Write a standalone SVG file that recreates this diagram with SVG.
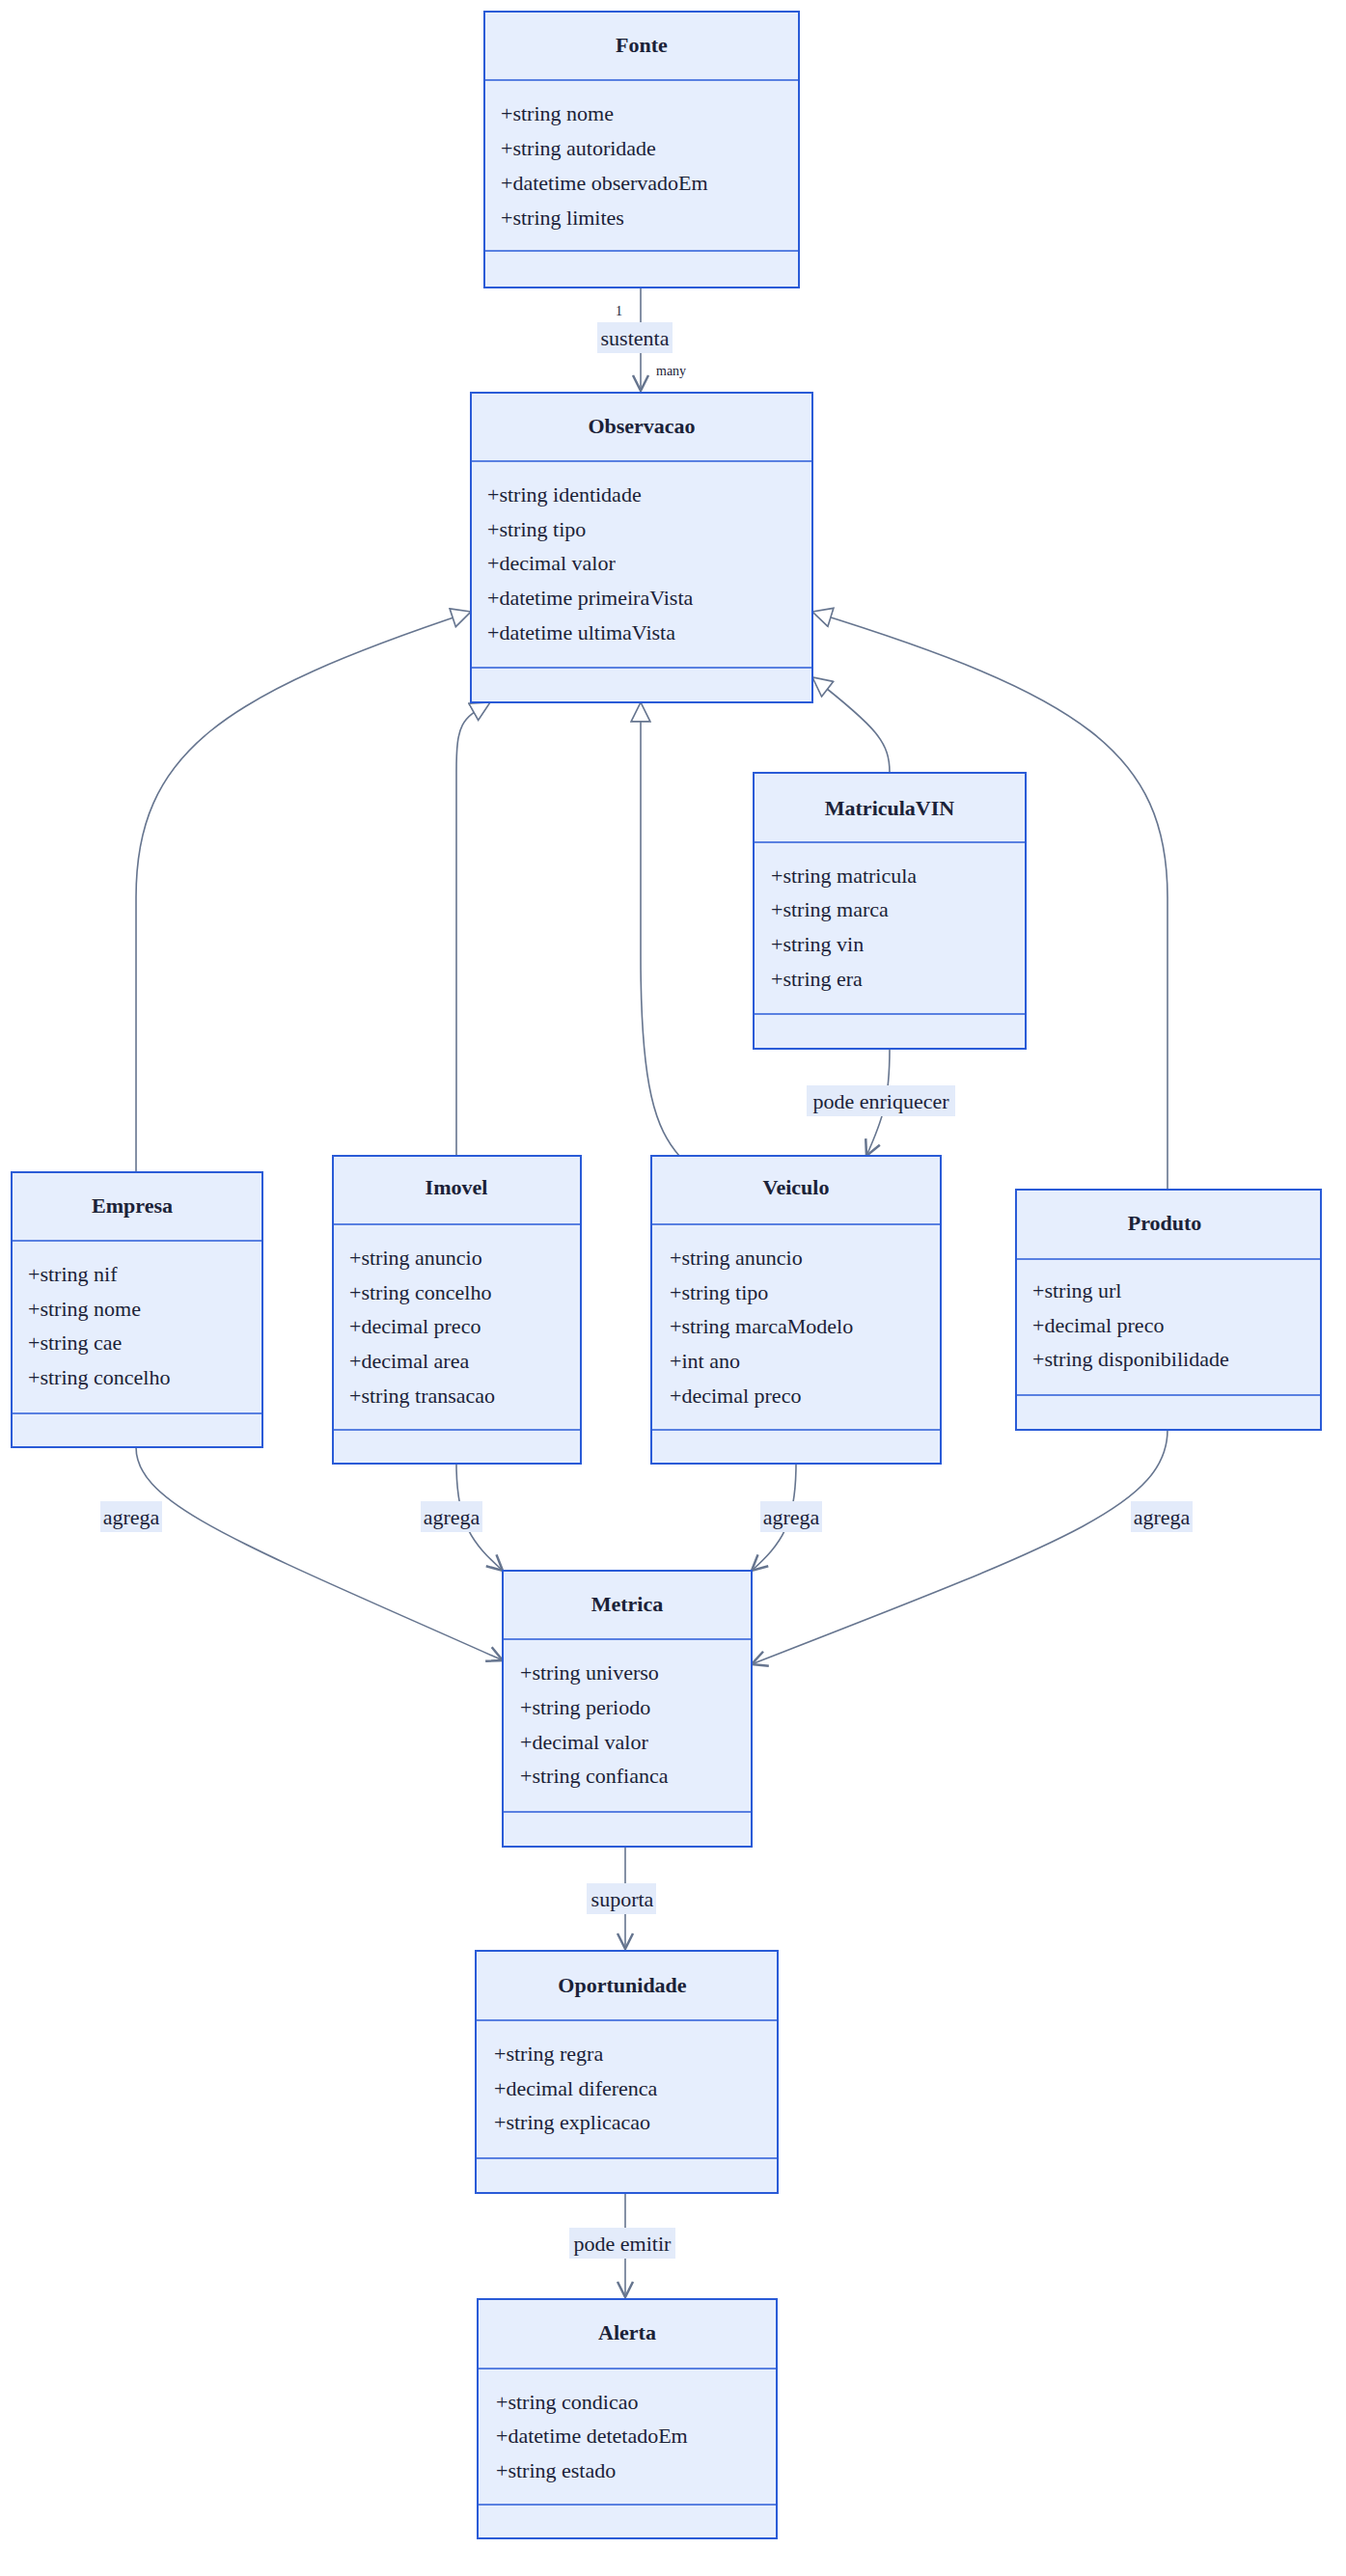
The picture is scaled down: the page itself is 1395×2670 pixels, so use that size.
<svg xmlns="http://www.w3.org/2000/svg" width="1395" height="2670" viewBox="0 0 1395 2670">
<style>
.box{fill:#e6eefd;stroke:#2a5bd7;stroke-width:2}
.ln{stroke:#2a5bd7;stroke-width:1.5}
.t{font-family:"Liberation Serif",serif;font-size:22px;font-weight:bold;fill:#1b2238;text-anchor:middle}
.a{font-family:"Liberation Serif",serif;font-size:22px;fill:#1b2238}
.e{fill:none;stroke:#66758f;stroke-width:1.6}
.lb{fill:#e3ebfa}
.l{font-family:"Liberation Serif",serif;font-size:22px;fill:#1b2238;text-anchor:middle}
.s{font-family:"Liberation Serif",serif;font-size:14px;fill:#1b2238}
</style>
<defs>
<marker id="tri" viewBox="0 0 20 20" refX="19" refY="10" markerWidth="22" markerHeight="22" markerUnits="userSpaceOnUse" orient="auto"><path d="M1,1 L19,10 L1,19 Z" fill="#fff" stroke="#66758f" stroke-width="1.5"/></marker>
<marker id="arr" viewBox="0 0 20 20" refX="18" refY="10" markerWidth="20" markerHeight="20" markerUnits="userSpaceOnUse" orient="auto"><path d="M2,2 L18,10 L2,18" fill="none" stroke="#66758f" stroke-width="2.5"/></marker>
</defs>
<g id="connectors">
<path class="e" d="M664,298 L664,405" marker-end="url(#arr)"/>
<path class="e" d="M141,1215 L141,930 C141,780 230,720 488,634" marker-end="url(#tri)"/>
<path class="e" d="M473,1198 L473,800 C473,750 478,745 508,728" marker-end="url(#tri)"/>
<path class="e" d="M704,1198 C680,1170 664,1130 664,990 L664,728" marker-end="url(#tri)"/>
<path class="e" d="M922,801 C922,770 910,755 842,702" marker-end="url(#tri)"/>
<path class="e" d="M1210,1233 L1210,930 C1210,780 1120,720 842,634" marker-end="url(#tri)"/>
<path class="e" d="M922,1087 C922,1140 915,1160 898,1198" marker-end="url(#arr)"/>
<path class="e" d="M141,1500 C141,1560 250,1600 521,1721" marker-end="url(#arr)"/>
<path class="e" d="M473,1517 C473,1580 490,1600 521,1628" marker-end="url(#arr)"/>
<path class="e" d="M825,1517 C825,1580 810,1600 779,1628" marker-end="url(#arr)"/>
<path class="e" d="M1210,1482 C1210,1560 1100,1600 779,1725" marker-end="url(#arr)"/>
<path class="e" d="M648,1914 L648,2020" marker-end="url(#arr)"/>
<path class="e" d="M648,2273 L648,2381" marker-end="url(#arr)"/>
<text class="s" x="638" y="327">1</text>
<text class="s" x="680" y="389">many</text>
<rect class="lb" x="619" y="334" width="78" height="32"/><text class="l" x="658" y="358">sustenta</text>
<rect class="lb" x="836" y="1125" width="154" height="32"/><text class="l" x="913" y="1149">pode enriquecer</text>
<rect class="lb" x="104" y="1556" width="64" height="32"/><text class="l" x="136" y="1580">agrega</text>
<rect class="lb" x="436" y="1556" width="64" height="32"/><text class="l" x="468" y="1580">agrega</text>
<rect class="lb" x="788" y="1556" width="64" height="32"/><text class="l" x="820" y="1580">agrega</text>
<rect class="lb" x="1172" y="1556" width="64" height="32"/><text class="l" x="1204" y="1580">agrega</text>
<rect class="lb" x="608" y="1952" width="72" height="32"/><text class="l" x="645" y="1976">suporta</text>
<rect class="lb" x="590" y="2309" width="110" height="32"/><text class="l" x="645" y="2333">pode emitir</text>
</g>
<g id="Fonte"><rect class="box" x="502" y="12" width="326" height="286"/><line class="ln" x1="502" y1="83" x2="828" y2="83"/><line class="ln" x1="502" y1="260" x2="828" y2="260"/>
<text class="t" x="665" y="54">Fonte</text>
<text class="a" x="519" y="125">+string nome</text><text class="a" x="519" y="161">+string autoridade</text><text class="a" x="519" y="197">+datetime observadoEm</text><text class="a" x="519" y="233">+string limites</text></g>
<g id="Observacao"><rect class="box" x="488" y="407" width="354" height="321"/><line class="ln" x1="488" y1="478" x2="842" y2="478"/><line class="ln" x1="488" y1="692" x2="842" y2="692"/>
<text class="t" x="665" y="449">Observacao</text>
<text class="a" x="505" y="520">+string identidade</text><text class="a" x="505" y="556">+string tipo</text><text class="a" x="505" y="591">+decimal valor</text><text class="a" x="505" y="627">+datetime primeiraVista</text><text class="a" x="505" y="663">+datetime ultimaVista</text></g>
<g id="MatriculaVIN"><rect class="box" x="781" y="801" width="282" height="286"/><line class="ln" x1="781" y1="873" x2="1063" y2="873"/><line class="ln" x1="781" y1="1051" x2="1063" y2="1051"/>
<text class="t" x="922" y="845">MatriculaVIN</text>
<text class="a" x="799" y="915">+string matricula</text><text class="a" x="799" y="950">+string marca</text><text class="a" x="799" y="986">+string vin</text><text class="a" x="799" y="1022">+string era</text></g>
<g id="Empresa"><rect class="box" x="12" y="1215" width="260" height="285"/><line class="ln" x1="12" y1="1286" x2="272" y2="1286"/><line class="ln" x1="12" y1="1465" x2="272" y2="1465"/>
<text class="t" x="137" y="1257">Empresa</text>
<text class="a" x="29" y="1328">+string nif</text><text class="a" x="29" y="1364">+string nome</text><text class="a" x="29" y="1399">+string cae</text><text class="a" x="29" y="1435">+string concelho</text></g>
<g id="Imovel"><rect class="box" x="345" y="1198" width="257" height="319"/><line class="ln" x1="345" y1="1269" x2="602" y2="1269"/><line class="ln" x1="345" y1="1482" x2="602" y2="1482"/>
<text class="t" x="473" y="1238">Imovel</text>
<text class="a" x="362" y="1311">+string anuncio</text><text class="a" x="362" y="1347">+string concelho</text><text class="a" x="362" y="1382">+decimal preco</text><text class="a" x="362" y="1418">+decimal area</text><text class="a" x="362" y="1454">+string transacao</text></g>
<g id="Veiculo"><rect class="box" x="675" y="1198" width="300" height="319"/><line class="ln" x1="675" y1="1269" x2="975" y2="1269"/><line class="ln" x1="675" y1="1482" x2="975" y2="1482"/>
<text class="t" x="825" y="1238">Veiculo</text>
<text class="a" x="694" y="1311">+string anuncio</text><text class="a" x="694" y="1347">+string tipo</text><text class="a" x="694" y="1382">+string marcaModelo</text><text class="a" x="694" y="1418">+int ano</text><text class="a" x="694" y="1454">+decimal preco</text></g>
<g id="Produto"><rect class="box" x="1053" y="1233" width="316" height="249"/><line class="ln" x1="1053" y1="1305" x2="1369" y2="1305"/><line class="ln" x1="1053" y1="1446" x2="1369" y2="1446"/>
<text class="t" x="1207" y="1275">Produto</text>
<text class="a" x="1070" y="1345">+string url</text><text class="a" x="1070" y="1381">+decimal preco</text><text class="a" x="1070" y="1416">+string disponibilidade</text></g>
<g id="Metrica"><rect class="box" x="521" y="1628" width="258" height="286"/><line class="ln" x1="521" y1="1699" x2="779" y2="1699"/><line class="ln" x1="521" y1="1878" x2="779" y2="1878"/>
<text class="t" x="650" y="1670">Metrica</text>
<text class="a" x="539" y="1741">+string universo</text><text class="a" x="539" y="1777">+string periodo</text><text class="a" x="539" y="1813">+decimal valor</text><text class="a" x="539" y="1848">+string confianca</text></g>
<g id="Oportunidade"><rect class="box" x="493" y="2022" width="313" height="251"/><line class="ln" x1="493" y1="2094" x2="806" y2="2094"/><line class="ln" x1="493" y1="2237" x2="806" y2="2237"/>
<text class="t" x="645" y="2065">Oportunidade</text>
<text class="a" x="512" y="2136">+string regra</text><text class="a" x="512" y="2172">+decimal diferenca</text><text class="a" x="512" y="2207">+string explicacao</text></g>
<g id="Alerta"><rect class="box" x="495" y="2383" width="310" height="248"/><line class="ln" x1="495" y1="2455" x2="805" y2="2455"/><line class="ln" x1="495" y1="2596" x2="805" y2="2596"/>
<text class="t" x="650" y="2425">Alerta</text>
<text class="a" x="514" y="2497">+string condicao</text><text class="a" x="514" y="2532">+datetime detetadoEm</text><text class="a" x="514" y="2568">+string estado</text></g>
</svg>
